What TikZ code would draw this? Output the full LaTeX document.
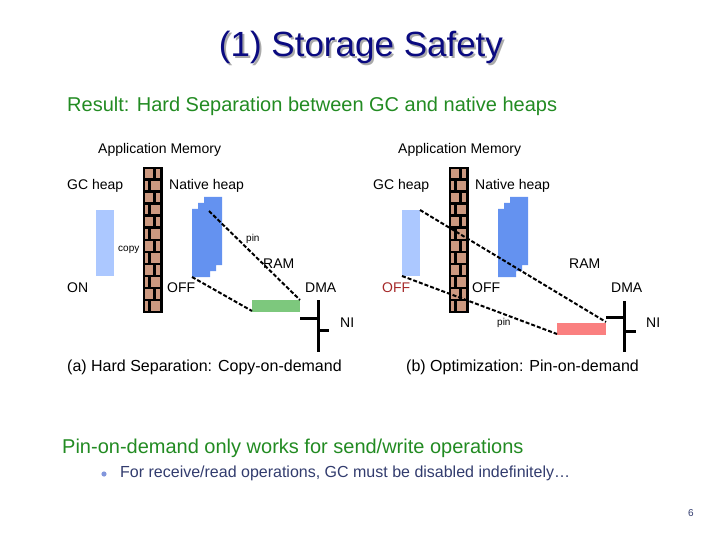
\documentclass[tikz,border=0pt]{standalone}
\usepackage{fontspec}
\setmainfont{Liberation Sans}
\definecolor{titlenavy}{RGB}{10,10,128}
\definecolor{titleshadow}{RGB}{170,170,170}
\definecolor{txtgreen}{RGB}{34,139,34}
\definecolor{gclight}{RGB}{172,200,255}
\definecolor{nativeblue}{RGB}{100,146,240}
\definecolor{dmagreen}{RGB}{125,200,125}
\definecolor{dmapink}{RGB}{250,128,128}
\definecolor{brick}{RGB}{204,153,128}
\definecolor{offred}{RGB}{165,40,40}
\definecolor{bultxt}{RGB}{50,60,110}
\definecolor{bulblue}{RGB}{130,150,220}
\newcommand{\fs}[1]{\fontsize{#1}{#1}\selectfont}
\tikzset{
  lbl/.style={inner sep=0pt, anchor=west, font=\fs{14}},
  tiny/.style={inner sep=0pt, anchor=west, font=\fs{10}},
  dashline/.style={line width=2pt, dash pattern=on 4pt off 2pt},
  nibar/.style={line width=3pt},
}
\newcommand{\brickwall}[1]{%
  \fill[black] (#1,167) rectangle ++(20,146);
  \foreach \r in {0,...,11}{
    \pgfmathsetmacro{\yy}{169+12*\r}
    \ifodd\r
      \fill[brick] (#1+2,\yy) rectangle ++(3.2,9.5);
      \fill[brick] (#1+7.8,\yy) rectangle ++(9.4,9.5);
    \else
      \fill[brick] (#1+2,\yy) rectangle ++(8.4,9.5);
      \fill[brick] (#1+12.8,\yy) rectangle ++(4.4,9.5);
    \fi
  }%
}
\newcommand{\nativeheap}[1]{%
  \fill[nativeblue] (#1+12,197) rectangle ++(18,68)
                    (#1+6,203) rectangle ++(18,68)
                    (#1,209) rectangle ++(18,68);
}
\newcommand{\titletext}{(1) Storage Safety}
\begin{document}
\begin{tikzpicture}[x=1pt,y=-1pt]
\useasboundingbox (0,0) rectangle (720,540);
% title with shadow in one node
\node[inner sep=0pt, font=\fs{35}, text=titlenavy] (title) at (361,48)
  {\makebox[0pt][l]{\hspace{2pt}\raisebox{-2pt}{\color{titleshadow}\titletext}}\titletext};
\node[inner sep=0pt, anchor=west, font=\fs{20}, text=txtgreen] (result) at (67,106) {Result: Hard Separation between GC and native heaps};

% ---------- left panel ----------
\node[lbl] (amL) at (98,150) {Application Memory};
\node[lbl] (gcL) at (67,186) {GC heap};
\node[lbl] (nhL) at (169,186) {Native heap};
\fill[gclight] (96,210) rectangle (114,276);
\nativeheap{192}
\coordinate (nLtop) at (209,211);
\coordinate (nLbl) at (192,277);
\brickwall{143}
\node[tiny] (copyL) at (118,250) {copy};
\node[tiny] (pinL) at (246,239) {pin};
\node[lbl] (ramL) at (263,264) {RAM};
\node[lbl] (onL) at (67,288) {ON};
\node[lbl] (offL) at (167,288) {OFF};
\node[lbl] (dmaL) at (305,288) {DMA};
\node[lbl] (niL) at (340,323) {NI};
\fill[dmagreen] (252,300) rectangle (300,312);
\coordinate (gTR) at (300,300);
\coordinate (gBL) at (252,311);
\draw[dashline] (nLtop) -- (gTR);
\draw[dashline] (nLbl) -- (gBL);
\coordinate (niLtop) at (318,300);
\coordinate (niLbot) at (318,352);
\draw[nibar] (niLtop) -- (niLbot);
\draw[nibar] (300,318) -- (318,318);
\draw[nibar] (318,330) -- (329,330);
\node[inner sep=0pt, anchor=west, font=\fs{16}] (capA) at (67,367) {(a) Hard Separation: Copy-on-demand};

% ---------- right panel ----------
\node[lbl] (amR) at (398,150) {Application Memory};
\node[lbl] (gcR) at (373,186) {GC heap};
\node[lbl] (nhR) at (475,186) {Native heap};
\fill[gclight] (402,210) rectangle (420,276);
\coordinate (gcRtr) at (420,210);
\coordinate (gcRbl) at (402,276);
\nativeheap{498}
\brickwall{449}
\node[tiny] (pinR) at (497,323) {pin};
\node[lbl] (ramR) at (569,264) {RAM};
\node[lbl, text=offred] (offR1) at (382,288) {OFF};
\node[lbl] (offR2) at (472,288) {OFF};
\node[lbl] (dmaR) at (611,288) {DMA};
\node[lbl] (niR) at (646,323) {NI};
\fill[dmapink] (557,323) rectangle (606,335);
\coordinate (pTR) at (606,322);
\coordinate (pBL) at (557,334);
\draw[dashline] (gcRtr) -- (pTR);
\draw[dashline] (gcRbl) -- (pBL);
\coordinate (niRtop) at (624,301);
\coordinate (niRbot) at (624,352);
\draw[nibar] (niRtop) -- (niRbot);
\draw[nibar] (606,317) -- (624,317);
\draw[nibar] (624,331) -- (636,331);
\node[inner sep=0pt, anchor=west, font=\fs{16}] (capB) at (406,367) {(b) Optimization: Pin-on-demand};

% ---------- bottom ----------
\node[inner sep=0pt, anchor=west, font=\fs{20}, text=txtgreen] (pod) at (62,448) {Pin-on-demand only works for send/write operations};
\fill[bulblue] (104,474) circle (2.6);
\node[inner sep=0pt, anchor=west, font=\fs{16}, text=bultxt] (bul) at (120,473) {For receive/read operations, GC must be disabled indefinitely…};
\node[inner sep=0pt, font=\fs{10}, text=bultxt] (pg) at (691,513) {6};
\end{tikzpicture}
\end{document}
